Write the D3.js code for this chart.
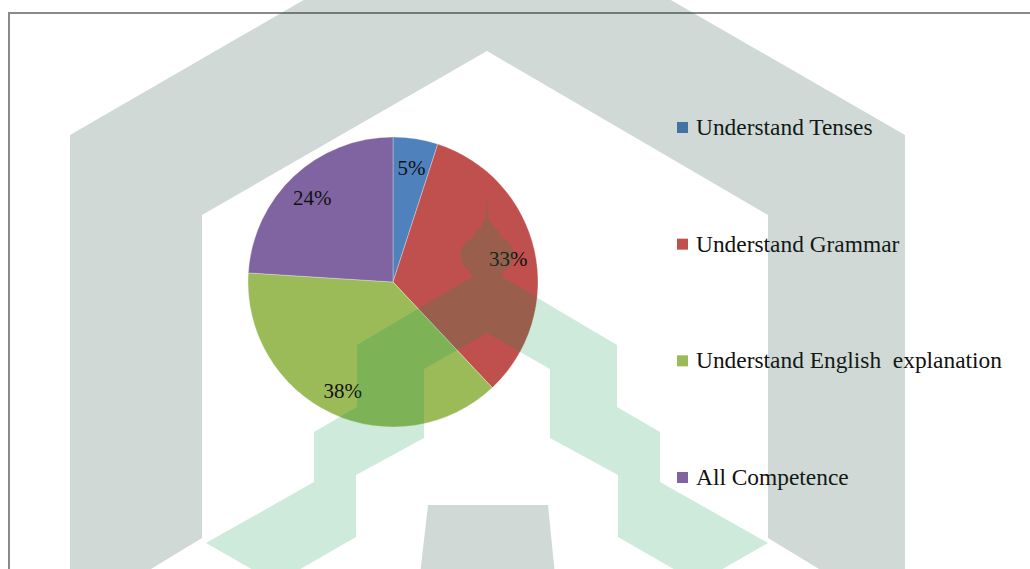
<!DOCTYPE html>
<html lang="en">
<head>
  <meta charset="UTF-8">
  <title>Pie</title>
  <script src="https://d3js.org/d3.v7.min.js"></script>
  <style>
    body { margin:0; background:#fff; }
    svg { display:block; }
    text { font-family:"Liberation Serif","Times New Roman",serif; fill:#111; }
  </style>
</head>
<body>
<svg id="chart" width="1030" height="569"></svg>
<script>
  // data
  var categories = ['Understand Tenses', 'Understand Grammar', 'Understand English  explanation', 'All Competence'];
  var values = [5, 33, 38, 24];
  var colors = ['#4F81BD', '#C0504D', '#9BBB59', '#8064A2'];

  var svg = d3.select('#chart');

  // chart area border (top + left only visible)
  svg.append('path')
    .attr('d', 'M9,569V13H1030')
    .attr('fill', 'none')
    .attr('stroke', '#8a8a8a')
    .attr('stroke-width', 2);

  var cx = 393, cy = 282, r = 145;
  var pie = d3.pie().sort(null).value(d => d);
  var arc = d3.arc().innerRadius(0).outerRadius(r);
  var labelArc = d3.arc().innerRadius(118).outerRadius(118);

  var g = svg.append('g').attr('transform', 'translate(' + cx + ',' + cy + ')');
  var slices = g.selectAll('.slice').data(pie(values)).enter();

  slices.append('path')
    .attr('d', arc)
    .attr('fill', (d, i) => colors[i])
    .attr('stroke', '#fff')
    .attr('stroke-opacity', .5)
    .attr('stroke-width', .6);

  slices.append('text')
    .attr('transform', d => 'translate(' + labelArc.centroid(d) + ')')
    .attr('text-anchor', 'middle')
    .attr('dy', '0.45em')
    .style('font-size', '21px')
    .text(d => d.data + '%');

  // legend
  var ly = d3.scalePoint().domain(categories).range([135, 485]);
  var leg = svg.selectAll('.leg').data(categories).enter().append('g')
    .attr('transform', d => 'translate(677,' + ly(d) + ')');
  leg.append('rect')
    .attr('x', 0).attr('y', -13)
    .attr('width', 11).attr('height', 11)
    .attr('fill', (d, i) => colors[i]);
  leg.append('text')
    .attr('x', 19)
    .style('font-size', '23.4px')
    .style('white-space', 'pre')
    .text(d => d);

  // watermark (logo behind the page, drawn as a light overlay)
  var wm = svg.append('g').attr('pointer-events', 'none');
  var line = d3.line();
  var grey = 'rgb(20,65,50)', green = 'rgb(5,150,75)';

  // outer chevron band
  wm.append('path')
    .attr('d', line([[70, 600], [70, 135], [487, -106], [905, 135], [905, 600], [870, 600],
      [768, 538], [768, 215], [487, 51], [202, 215], [202, 538], [100, 600]]) + 'Z')
    .attr('fill', grey).attr('fill-opacity', .2);
  // bottom block
  wm.append('path')
    .attr('d', line([[428, 505], [548, 505], [555, 575], [420, 575]]) + 'Z')
    .attr('fill', grey).attr('fill-opacity', .2);

  // central arch with minaret, mirrored around x = 487
  var half = [[487, 197], [488, 212], [489, 221], [492, 223], [493, 228], [499, 231], [500, 237],
    [507, 241], [512, 247], [514, 256], [511, 265], [504, 271], [502, 277],
    [617, 345], [617, 407], [660, 432], [660, 482], [768, 543], [698, 583],
    [618, 537], [618, 475], [550, 438], [550, 369], [487, 333]];
  var mirror = half.slice(1, -1).reverse().map(p => [974 - p[0], p[1]]);
  wm.append('path')
    .attr('d', line(half.concat(mirror)) + 'Z')
    .attr('fill', green).attr('fill-opacity', .2);
</script>
</body>
</html>
